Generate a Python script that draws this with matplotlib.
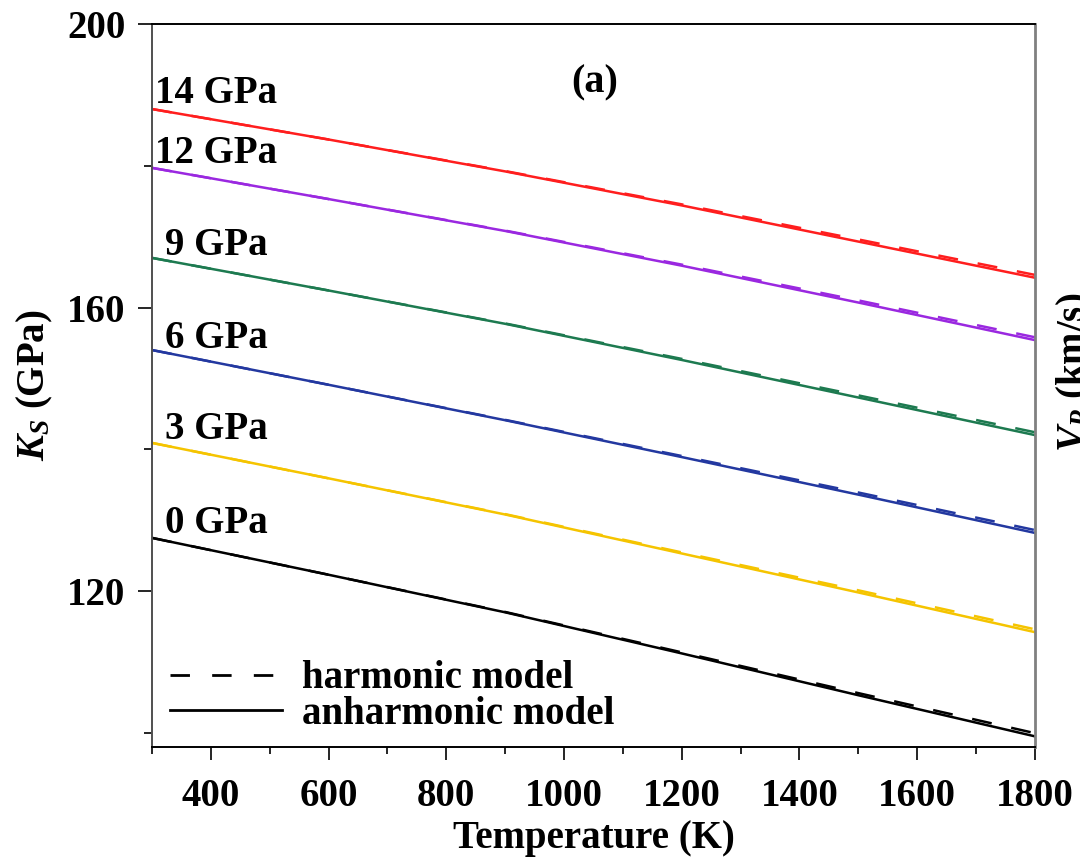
import matplotlib
matplotlib.use("Agg")
import matplotlib.pyplot as plt
from matplotlib.lines import Line2D
from matplotlib.ticker import MultipleLocator

# data (K_S in GPa vs temperature in K)
temps = [300, 600, 900, 1200, 1500, 1800]
pressures = ['0 GPa', '3 GPa', '6 GPa', '9 GPa', '12 GPa', '14 GPa']
colors = ['black', '#f5c400', '#2338a0', '#1d7a50', '#9a28e0', '#ff1e1e']

anharm_0 = [127.5, 122.3, 117.0, 111.2, 105.3, 99.5]
anharm_3 = [140.9, 135.9, 130.8, 125.3, 119.8, 114.2]
anharm_6 = [154.0, 149.1, 144.1, 138.9, 133.6, 128.2]
anharm_9 = [167.0, 162.4, 157.7, 152.6, 147.3, 142.0]
anharm_12 = [179.7, 175.3, 170.8, 165.9, 160.7, 155.4]
anharm_14 = [188.0, 183.7, 179.2, 174.4, 169.3, 164.2]

harm_0 = [127.5, 122.3, 117.05, 111.35, 105.6, 99.95]
harm_3 = [140.9, 135.9, 130.85, 125.45, 120.1, 114.6]
harm_6 = [154.0, 149.1, 144.15, 139.05, 133.9, 128.6]
harm_9 = [167.0, 162.4, 157.75, 152.75, 147.6, 142.4]
harm_12 = [179.7, 175.3, 170.85, 166.05, 161.0, 155.8]
harm_14 = [188.0, 183.7, 179.25, 174.55, 169.6, 164.6]

# label anchor (temperature, K_S) for each pressure label
label_t = [322, 322, 322, 322, 305, 305]
label_k = [128.2, 141.4, 154.3, 167.4, 180.4, 188.9]

anharm = [anharm_0, anharm_3, anharm_6, anharm_9, anharm_12, anharm_14]
harm = [harm_0, harm_3, harm_6, harm_9, harm_12, harm_14]

plt.rcParams['font.family'] = ['Liberation Serif', 'DejaVu Serif']
plt.rcParams['font.weight'] = 'bold'
plt.rcParams['mathtext.fontset'] = 'custom'
plt.rcParams['mathtext.rm'] = 'Liberation Serif:bold'
plt.rcParams['mathtext.it'] = 'Liberation Serif:bold:italic'
plt.rcParams['font.size'] = 28

fig = plt.figure(figsize=(10.8, 8.59), dpi=100)
ax = fig.add_axes([0.1407, 0.1304, 0.8176, 0.8417])

for h, a, c in zip(harm, anharm, colors):
    ax.plot(temps, h, color=c, lw=1.8, dashes=(8, 8))
    ax.plot(temps, a, color=c, lw=1.8)

for name, t, k in zip(pressures, label_t, label_k):
    ax.text(t, k, name, fontsize=28, fontweight='bold', va='baseline', ha='left')

ax.text(1052, 190.4, '(a)', fontsize=29, fontweight='bold', ha='center', va='baseline')

ax.set_xlim(300, 1800)
ax.set_ylim(98, 200)
ax.xaxis.set_major_locator(MultipleLocator(200))
ax.xaxis.set_minor_locator(MultipleLocator(100))
ax.set_yticks([120, 160, 200])
ax.set_yticks([100, 140, 180], minor=True)

ax.tick_params(axis='both', which='both', direction='out', top=False, right=False)
ax.tick_params(axis='x', which='major', length=9, width=1.2, pad=13, labelsize=28)
ax.tick_params(axis='x', which='minor', length=5, width=1.2)
ax.tick_params(axis='y', which='major', length=10, width=1.2, pad=9, labelsize=28)
ax.tick_params(axis='y', which='minor', length=6, width=1.2)

for s in ['left', 'bottom', 'top']:
    ax.spines[s].set_linewidth(1.4)
ax.spines['left'].set_color('#505050')
ax.spines['right'].set_color('#808080')
ax.spines['right'].set_linewidth(2)

ax.set_xlabel('Temperature (K)', fontsize=28, fontweight='bold', labelpad=4)
ax.set_ylabel(r'$K_S$ (GPa)', fontsize=28, fontweight='bold')
ax.yaxis.set_label_coords(-0.11, 0.5)

handles = [Line2D([], [], color='black', lw=2, dashes=(7, 8)),
           Line2D([], [], color='black', lw=2)]
ax.legend(handles, ['harmonic model', 'anharmonic model'], loc='lower left',
          bbox_to_anchor=(0.02, 0.02), frameon=False, borderpad=0, borderaxespad=0,
          handlelength=2.9, handletextpad=0.5, labelspacing=-0.05,
          prop={'family': 'Liberation Serif', 'weight': 'bold', 'size': 28})

# neighbouring panel's axis label, cut off at the figure edge as in the source
fig.text(1075 / 1080, 1 - 372 / 859, r'$V_P$ (km/s)', rotation=90,
         fontsize=28, fontweight='bold', ha='center', va='center')

fig.savefig('out.png', dpi=100)
